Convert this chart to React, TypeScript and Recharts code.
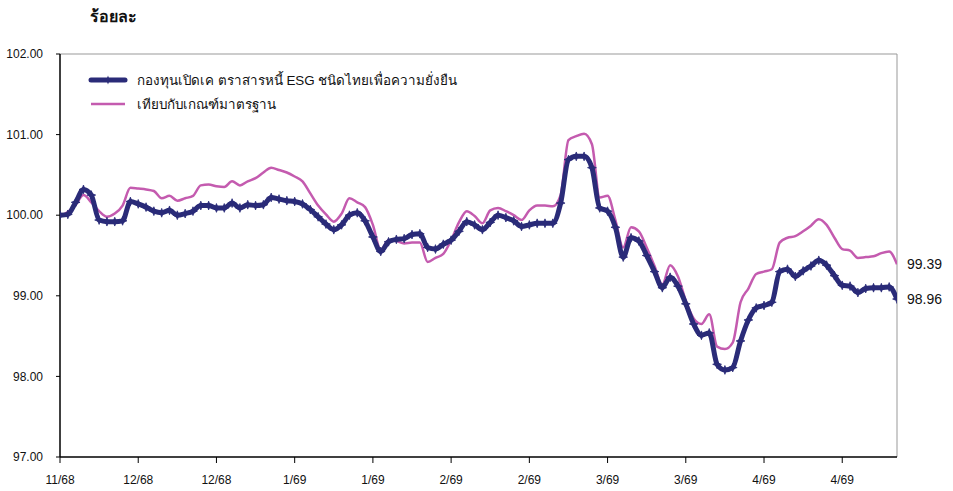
import React from 'react';
import { LineChart, Line, XAxis, YAxis, ReferenceLine, LabelList } from 'recharts';

const fundName = 'กองทุนเปิดเค ตราสารหนี้ ESG ชนิดไทยเพื่อความยั่งยืน';
const benchName = 'เทียบกับเกณฑ์มาตรฐาน';
const yTitle = 'ร้อยละ';

const xTickLabels = ['11/68', '12/68', '12/68', '1/69', '1/69', '2/69', '2/69', '3/69', '3/69', '4/69', '4/69'];
const yTicks = [97, 98, 99, 100, 101, 102];

const fundValues = [
  100.00, 100.01, 100.16, 100.32, 100.25, 99.94, 99.92, 99.92, 99.93, 100.17,
  100.14, 100.10, 100.05, 100.03, 100.06, 100.00, 100.02, 100.05, 100.12, 100.12,
  100.09, 100.09, 100.15, 100.09, 100.13, 100.12, 100.13, 100.22, 100.20, 100.18,
  100.17, 100.14, 100.07, 99.98, 99.89, 99.82, 99.88, 100.00, 100.03, 99.93,
  99.73, 99.55, 99.67, 99.70, 99.71, 99.76, 99.77, 99.60, 99.58, 99.64,
  99.69, 99.80, 99.92, 99.88, 99.82, 99.91, 100.00, 99.97, 99.93, 99.86,
  99.88, 99.90, 99.90, 99.90, 100.15, 100.69, 100.73, 100.73, 100.59, 100.09,
  100.05, 99.85, 99.48, 99.72, 99.68, 99.50, 99.30, 99.10, 99.23, 99.12,
  98.90, 98.65, 98.51, 98.54, 98.15, 98.08, 98.11, 98.44, 98.70, 98.85,
  98.88, 98.92, 99.30, 99.33, 99.24, 99.31, 99.37, 99.44, 99.38, 99.25,
  99.13, 99.12, 99.04, 99.09, 99.10, 99.10, 99.11, 98.96,
];

const benchValues = [
  99.99, 100.04, 100.13, 100.25, 100.16, 100.05, 99.98, 100.02, 100.12, 100.34,
  100.33, 100.32, 100.30, 100.21, 100.24, 100.18, 100.21, 100.24, 100.37, 100.38,
  100.36, 100.35, 100.42, 100.37, 100.42, 100.46, 100.53, 100.59, 100.56, 100.53,
  100.48, 100.42, 100.27, 100.12, 100.01, 99.92, 100.02, 100.21, 100.16, 100.10,
  99.88, 99.57, 99.69, 99.68, 99.65, 99.66, 99.66, 99.42, 99.47, 99.52,
  99.69, 99.91, 100.05, 99.99, 99.90, 100.06, 100.09, 100.05, 100.00, 99.94,
  100.06, 100.12, 100.12, 100.11, 100.25, 100.93, 100.98, 101.01, 100.88, 100.22,
  100.24, 99.94, 99.60, 99.85, 99.80, 99.60, 99.37, 99.14, 99.38, 99.24,
  98.94, 98.72, 98.65, 98.77, 98.37, 98.34, 98.42, 98.92, 99.09, 99.27,
  99.30, 99.33, 99.66, 99.72, 99.74, 99.80, 99.87, 99.95, 99.88, 99.72,
  99.58, 99.56, 99.47, 99.48, 99.49, 99.53, 99.55, 99.39,
];

const NAVY = '#2A2B78';
const PINK = '#C45BAF';
const FONT = '"Liberation Sans", Arial, sans-serif';

const data = fundValues.map((v, i) => ({ i, fund: v, bench: benchValues[i] }));
const lastIndex = data.length - 1;
const xTicks = xTickLabels.map((_, k) => k * 10);

const StarDot = (props: any) => {
  const { cx, cy, index } = props;
  if (cx == null || cy == null) return <g key={index} />;
  const r = 4.4;
  const s = 1.2;
  const pts = [
    [cx, cy - r], [cx + s, cy - s], [cx + r, cy], [cx + s, cy + s],
    [cx, cy + r], [cx - s, cy + s], [cx - r, cy], [cx - s, cy - s],
  ].map((p) => p.join(',')).join(' ');
  return <polygon key={index} points={pts} fill={NAVY} stroke={NAVY} strokeWidth={0.8} />;
};

const endLabel = (props: any) => {
  const { x, y, index, value } = props;
  if (index !== lastIndex) return null;
  return (
    <text x={x + 10} y={y} dy={5} fontSize={14} fontFamily={FONT} fill="#111">
      {Number(value).toFixed(2)}
    </text>
  );
};

const LegendBox = () => (
  <div style={{ position: 'absolute', left: 88, top: 68, fontFamily: FONT, fontSize: 13.4, color: '#111' }}>
    <div style={{ display: 'flex', alignItems: 'center', height: 24 }}>
      <svg width={49} height={14} style={{ flex: 'none' }}>
        <line x1={3} y1={7} x2={37} y2={7} stroke={NAVY} strokeWidth={5} strokeLinecap="round" />
        <polygon points="20,2.5 21.2,5.8 24.5,7 21.2,8.2 20,11.5 18.8,8.2 15.5,7 18.8,5.8" fill={NAVY} />
      </svg>
      <span style={{ whiteSpace: 'nowrap' }}>{fundName}</span>
    </div>
    <div style={{ display: 'flex', alignItems: 'center', height: 24 }}>
      <svg width={49} height={14} style={{ flex: 'none' }}>
        <line x1={3} y1={7} x2={37} y2={7} stroke={PINK} strokeWidth={2.5} />
      </svg>
      <span style={{ whiteSpace: 'nowrap' }}>{benchName}</span>
    </div>
  </div>
);

export default function App() {
  return (
    <div style={{ position: 'absolute', left: 0, top: 0, width: 953, height: 491, background: '#fff' }}>
      <div
        style={{
          position: 'absolute', left: 90, top: 4, fontFamily: FONT, fontSize: 16,
          fontWeight: 'bold', color: '#111',
        }}
      >
        {yTitle}
      </div>
      <LineChart
        width={953}
        height={491}
        data={data}
        margin={{ top: 54, right: 56, bottom: 0, left: 0 }}
      >
        <XAxis
          dataKey="i"
          type="number"
          domain={[0, lastIndex]}
          ticks={xTicks}
          tickFormatter={(v: number) => xTickLabels[Math.round(v / 10)]}
          tick={{ fontSize: 12, fontFamily: FONT, fill: '#111' }}
          tickSize={6}
          tickMargin={12}
          axisLine={{ stroke: '#000', strokeWidth: 1.5 }}
          tickLine={{ stroke: '#000' }}
          height={34}
          allowDataOverflow
        />
        <YAxis
          domain={[97, 102]}
          ticks={yTicks}
          tickFormatter={(v: number) => v.toFixed(2)}
          tick={{ fontSize: 12, fontFamily: FONT, fill: '#111' }}
          tickSize={4}
          tickMargin={13}
          axisLine={{ stroke: '#000', strokeWidth: 1.5 }}
          tickLine={{ stroke: '#000' }}
          width={60}
          allowDataOverflow
        />
        <ReferenceLine y={102} stroke="#999" strokeWidth={1} />
        <ReferenceLine x={lastIndex} stroke="#999" strokeWidth={1} />
        <Line
          type="monotone"
          dataKey="bench"
          name={benchName}
          stroke={PINK}
          strokeWidth={2.5}
          dot={false}
          activeDot={false}
          isAnimationActive={false}
        >
          <LabelList dataKey="bench" content={endLabel} />
        </Line>
        <Line
          type="monotone"
          dataKey="fund"
          name={fundName}
          stroke={NAVY}
          strokeWidth={5}
          dot={<StarDot />}
          activeDot={false}
          isAnimationActive={false}
        >
          <LabelList dataKey="fund" content={endLabel} />
        </Line>
      </LineChart>
      <LegendBox />
    </div>
  );
}
